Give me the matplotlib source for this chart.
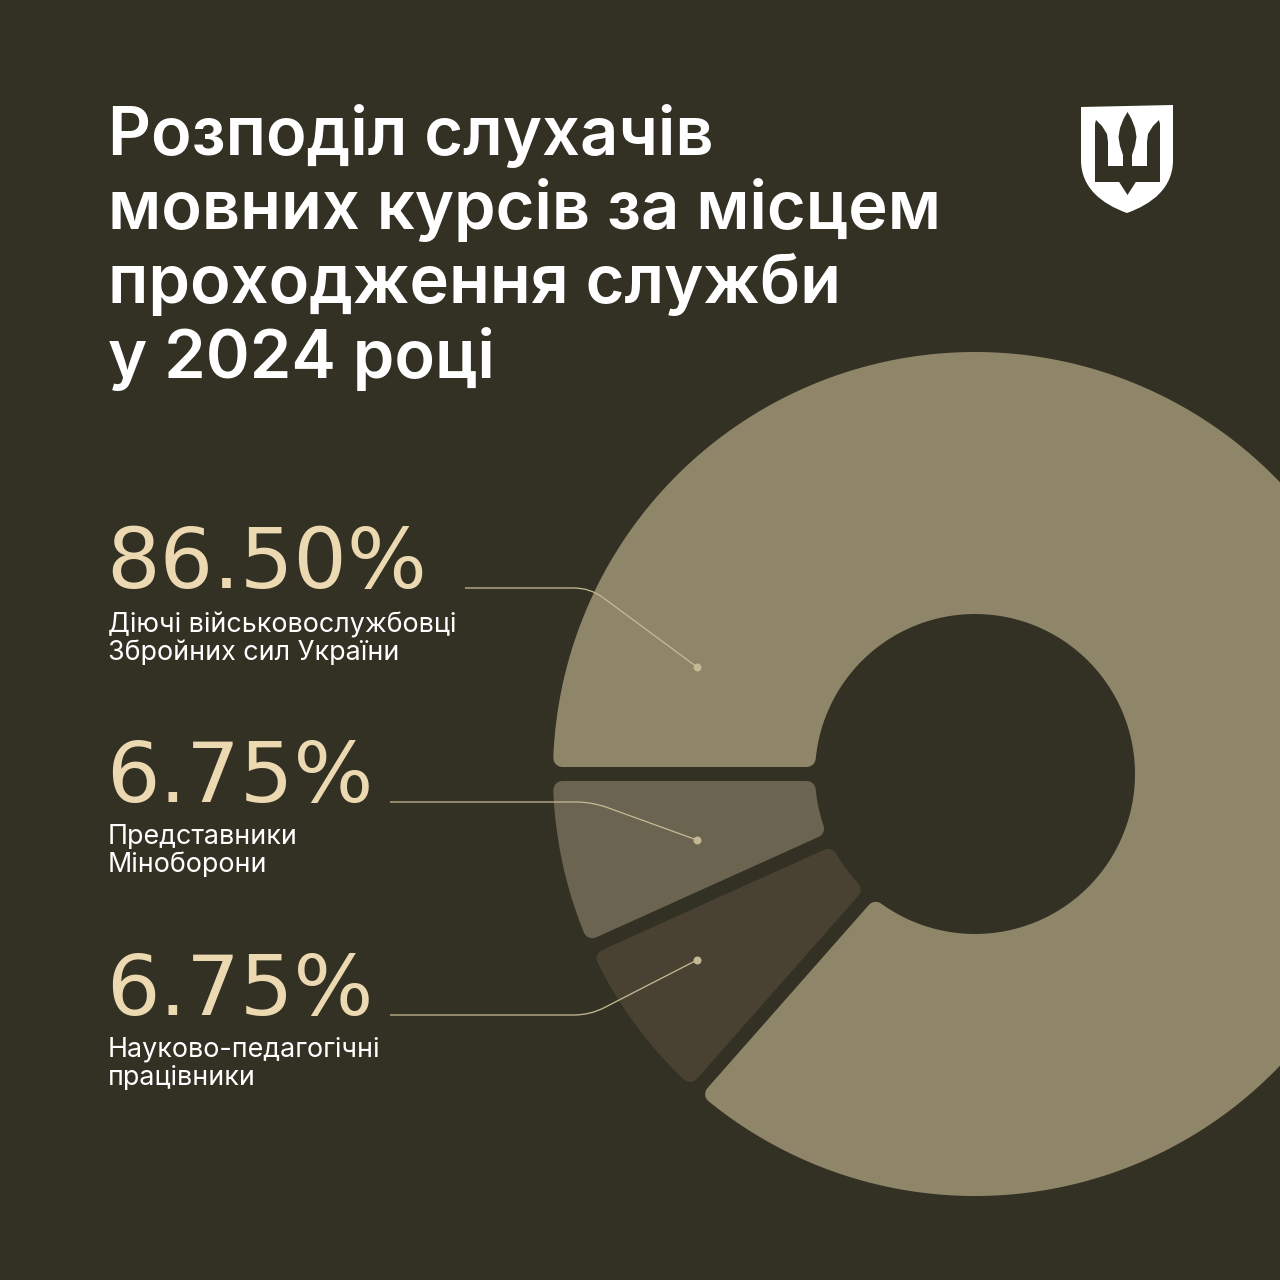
import numpy as np
import matplotlib
matplotlib.use("Agg")
import matplotlib.pyplot as plt
from matplotlib.patches import Polygon, PathPatch
from matplotlib.path import Path

# ---------------- data ----------------
title_lines = ["Розподіл слухачів", "мовних курсів за місцем",
               "проходження служби", "у 2024 році"]
categories = ["Діючі військовослужбовці\nЗбройних сил України",
              "Представники\nМіноборони",
              "Науково-педагогічні\nпрацівники"]
values = [86.50, 6.75, 6.75]
pct_labels = ["86.50%", "6.75%", "6.75%"]
# order in which slices are laid counter-clockwise from 180°
slice_order = [1, 2, 0]

# ---------------- style ----------------
BG = "#333123"
slice_colors = ["#8f866a", "#6b6450", "#494232"]
PCT_COLOR = "#ecd9b1"
LINE_COLOR = "#c4b894"

W = H = 1280
DPI = 100
fig = plt.figure(figsize=(W / DPI, H / DPI), dpi=DPI, facecolor=BG)
ax = fig.add_axes([0, 0, 1, 1])
ax.set_xlim(0, W)
ax.set_ylim(H, 0)
ax.axis("off")
ax.set_facecolor(BG)

PX = 72.0 / DPI  # points per pixel

# ---------------- donut ----------------
cx, cy = 975, 774
R_OUT, R_IN = 422, 160
GAP = 14
CORNER = 9


def sector(t1, t2, r_in, r_out, h, n=400):
    ao1 = t1 + np.degrees(np.arcsin(h / r_out))
    ao2 = t2 - np.degrees(np.arcsin(h / r_out))
    ai1 = t1 + np.degrees(np.arcsin(h / r_in))
    ai2 = t2 - np.degrees(np.arcsin(h / r_in))
    to = np.radians(np.linspace(ao1, ao2, n))
    ti = np.radians(np.linspace(ai2, ai1, max(20, n // 3)))
    xo = cx + r_out * np.cos(to)
    yo = cy - r_out * np.sin(to)
    xi = cx + r_in * np.cos(ti)
    yi = cy - r_in * np.sin(ti)
    return np.column_stack([np.concatenate([xo, xi]), np.concatenate([yo, yi])])


total = sum(values)
start = 180.0
for idx in slice_order:
    span = values[idx] / total * 360.0
    pts = sector(start, start + span, R_IN + CORNER, R_OUT - CORNER, GAP / 2 + CORNER)
    col = slice_colors[idx]
    ax.add_patch(Polygon(pts, closed=True, facecolor=col, edgecolor=col,
                         linewidth=2 * CORNER * PX, joinstyle="round", zorder=2))
    start += span

# ---------------- texts ----------------
fig.canvas.draw()
renderer = fig.canvas.get_renderer()


def fit_size(text, family, weight, target_w, base=40):
    t = ax.text(0, 0, text, fontsize=base, family=family, fontweight=weight)
    w = t.get_window_extent(renderer).width
    t.remove()
    return base * target_w / w


X0 = 108
title_font = ["Inter", "DejaVu Sans"]
ts = fit_size(title_lines[1], title_font, "semibold", 832)
title_base = [155, 229, 303, 378]
for line, yb in zip(title_lines, title_base):
    ax.text(X0, yb, line, fontsize=ts, family=title_font, fontweight="semibold",
            color="white", va="baseline", ha="left", zorder=5)

pct_font = ["DejaVu Sans"]
ps = fit_size(pct_labels[0], pct_font, "normal", 321)
lab_font = ["Inter", "DejaVu Sans"]
ls = fit_size(categories[0].split("\n")[0], lab_font, "normal", 348)

pct_base = [588, 802, 1015]
label_base = [(632, 660), (844, 872), (1057, 1085)]
for i in range(3):
    ax.text(X0 - 2, pct_base[i], pct_labels[i], fontsize=ps, family=pct_font,
            color=PCT_COLOR, va="baseline", ha="left", zorder=5)
    for ln, yb in zip(categories[i].split("\n"), label_base[i]):
        ax.text(X0, yb, ln, fontsize=ls, family=lab_font, color="white",
                va="baseline", ha="left", zorder=5)

# ---------------- leader lines ----------------
leaders = [
    ((465, 588), (590, 588), (697, 667)),
    ((390, 802), (592, 802), (697, 840)),
    ((390, 1015), (590, 1015), (697, 960)),
]
for p0, pb, pd in leaders:
    d = np.array(pd, float) - np.array(pb, float)
    d /= np.linalg.norm(d)
    r = 16
    a = (pb[0] - r, pb[1])
    b = (pb[0] + d[0] * r, pb[1] + d[1] * r)
    path = Path([p0, a, pb, b, pd],
                [Path.MOVETO, Path.LINETO, Path.CURVE3, Path.CURVE3, Path.LINETO])
    ax.add_patch(PathPatch(path, facecolor="none", edgecolor=LINE_COLOR,
                           linewidth=1.3 * PX, zorder=4))
    ax.plot([pd[0]], [pd[1]], "o", ms=8 * PX, color=LINE_COLOR,
            markeredgewidth=0, zorder=4)

# ---------------- emblem ----------------
shield = Path(
    [(1081, 107), (1173, 105), (1173, 160),
     (1173, 188), (1152, 204), (1127, 213),
     (1102, 204), (1081, 188), (1081, 160), (1081, 107)],
    [Path.MOVETO, Path.LINETO, Path.LINETO,
     Path.CURVE4, Path.CURVE4, Path.CURVE4,
     Path.CURVE4, Path.CURVE4, Path.CURVE4, Path.CLOSEPOLY])
ax.add_patch(PathPatch(shield, facecolor="white", edgecolor="none", zorder=6))

mx = 1127.5
bar = [(1095, 166), (1160, 166), (1160, 182), (1095, 182)]
left_prong = [(1095, 167), (1095, 124), (1096, 120), (1102, 126),
              (1107, 134), (1108, 142), (1108, 167)]
right_prong = [(2 * mx - x, y) for x, y in left_prong]
leaf = [(mx, 112), (mx + 4, 119), (mx + 7.5, 128), (mx + 9, 137),
        (mx + 7.5, 146), (mx + 4.5, 155), (mx + 4.5, 168), (mx - 4.5, 168),
        (mx - 4.5, 155), (mx - 7.5, 146), (mx - 9, 137), (mx - 7.5, 128),
        (mx - 4, 119)]
tail = [(mx - 9, 181), (mx + 9, 181), (mx, 195)]
for shape in (bar, left_prong, right_prong, leaf, tail):
    ax.add_patch(Polygon(shape, closed=True, facecolor=BG, edgecolor="none", zorder=7))

fig.savefig("out.png", dpi=DPI, facecolor=BG)
